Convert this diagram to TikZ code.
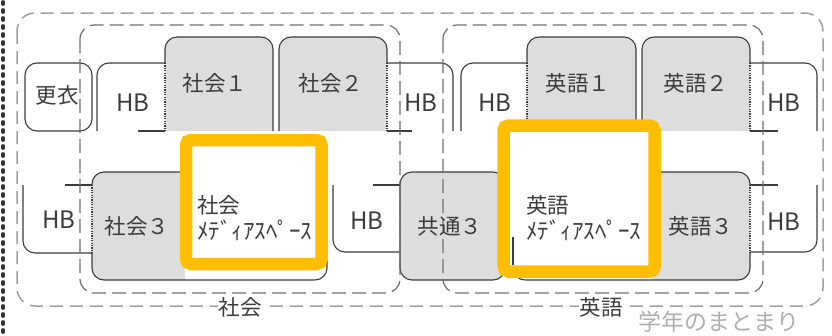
\documentclass[tikz,border=0pt]{standalone}
\usepackage{fontspec}
\setmainfont{Noto Sans CJK JP}
\definecolor{ink}{RGB}{60,60,60}
\definecolor{tilegray}{RGB}{221,221,221}
\definecolor{grpline}{RGB}{110,110,110}
\definecolor{outerline}{RGB}{160,160,160}
\definecolor{hilite}{RGB}{255,190,0}
\definecolor{faint}{RGB}{175,175,175}
\begin{document}
\begin{tikzpicture}[x=1pt,y=-1pt,
  tileline/.style={draw=ink, line width=1.1pt},
  dotline/.style={draw=ink, line width=1.1pt, dash pattern=on 1.2pt off 1.2pt},
  grpbox/.style={draw=grpline, line width=1.2pt, dash pattern=on 14pt off 6pt, rounded corners=14pt},
  outerbox/.style={draw=outerline, line width=1.5pt, dash pattern=on 13pt off 7pt, rounded corners=18pt},
  hibox/.style={draw=hilite, line width=12.5pt, rounded corners=5pt, fill=white},
  lbl/.style={font=\fontsize{21.5pt}{24pt}\selectfont, text=ink, inner sep=1pt},
  kana/.style={font=\fontsize{23pt}{24pt}\selectfont, text=ink, inner sep=1pt},
  hb/.style={font=\fontsize{24pt}{26pt}\selectfont, text=ink, inner sep=0pt},
  rc/.style={rounded corners=12pt},
]
\useasboundingbox (0,0) rectangle (832,335);
% left dotted border
\coordinate (dTop) at (3,2);
\coordinate (dBot) at (3,334);
\draw[black!80, line width=3.8pt, line cap=round, dash pattern=on 2pt off 6pt] (dTop) -- (dBot);
% outer dashed frame
\draw[outerbox] (17,13) rectangle (823,306);

% ---- top row gray tabs ----
\fill[tilegray,rc] (165,37) rectangle (273,131); \fill[tilegray] (165,80) rectangle (273,131);
\fill[tilegray,rc] (279,37) rectangle (387,131); \fill[tilegray] (279,80) rectangle (387,131);
\fill[tilegray,rc] (527,37) rectangle (636,131); \fill[tilegray] (527,80) rectangle (636,131);
\fill[tilegray,rc] (642,37) rectangle (750,131); \fill[tilegray] (642,80) rectangle (750,131);
\draw[tileline,rc] (165,63) -- (165,37) -- (273,37) -- (273,131);
\draw[dotline] (165,63) -- (165,131);
\draw[tileline,rc] (279,131) -- (279,37) -- (387,37) -- (387,63);
\draw[dotline] (387,63) -- (387,131);
\draw[tileline,rc] (527,63) -- (527,37) -- (636,37) -- (636,131);
\draw[dotline] (527,63) -- (527,131);
\draw[tileline,rc] (642,131) -- (642,37) -- (750,37) -- (750,63);
\draw[dotline] (750,63) -- (750,131);

% ---- top row HB tabs ----
\draw[tileline,rc] (97,131) -- (97,63) -- (165,63);
\draw[tileline] (138,131) -- (165,131);
\draw[tileline,rc] (387,63) -- (453,63) -- (453,131);
\draw[tileline] (387,131) -- (412,131);
\draw[tileline,rc] (461,131) -- (461,63) -- (527,63);
\draw[tileline] (505,131) -- (527,131);
\draw[tileline,rc] (750,63) -- (817,63) -- (817,131);
\draw[tileline] (750,131) -- (778,131);

% changing room
\draw[tileline,rc,fill=white] (25,63) rectangle (92,131);

% ---- bottom row HB tabs ----
\draw[tileline] (65,185) -- (92,185);
\draw[tileline,rc] (23,185) -- (23,253) -- (92,253);
\draw[tileline] (373,185) -- (400,185);
\draw[tileline,rc] (333,185) -- (333,252) -- (400,252);
\draw[tileline] (750,185) -- (778,185);
\draw[tileline,rc] (817,185) -- (817,252) -- (750,252);

% ---- bottom row blocks ----
\begin{scope}
  \clip (80,160) rectangle (185,290);
  \fill[tilegray,rc] (92,172) rectangle (327,280);
\end{scope}
\draw[tileline,rc] (92,185) -- (92,172) -- (327,172) -- (327,280) -- (92,280) -- (92,253);
\draw[dotline] (92,185) -- (92,253);

\fill[tilegray,rc] (400,172) rectangle (505,280);
\draw[tileline,rc] (400,172) rectangle (505,280);

\begin{scope}
  \clip (652,160) rectangle (770,290);
  \fill[tilegray,rc] (513,172) rectangle (750,280);
\end{scope}
\draw[tileline,rc] (750,185) -- (750,172) -- (513,172) -- (513,280) -- (750,280) -- (750,253);
\draw[dotline] (750,185) -- (750,253);

% ---- group frames ----
\draw[grpbox] (80,25) rectangle (400,293);
\draw[grpbox] (443,25) rectangle (763,293);

% ---- highlight boxes ----
\draw[hibox] (186,140) rectangle (321.5,264);
\draw[hibox] (503.5,125.5) rectangle (654.5,271.5);
\draw[tileline] (513,237) -- (513,265);

% ---- texts ----
\node[lbl] (koui) at (57,95) {更衣};
\node[hb] (hbA) at (133,103) {HB};
\node[lbl] (sha1) at (215,83) {社会１};
\node[lbl] (sha2) at (331,83) {社会２};
\node[hb] (hbB) at (421,103) {HB};
\node[hb] (hbC) at (495,103) {HB};
\node[lbl] (eng1) at (578,83) {英語１};
\node[lbl] (eng2) at (696,83) {英語２};
\node[hb] (hbD) at (784,103) {HB};
\node[hb] (hbE) at (59,220) {HB};
\node[lbl] (sha3) at (137,226) {社会３};
\node[lbl,anchor=west] (shaMa) at (196,205) {社会};
\node[kana,anchor=west] (shaMb) at (196,230) {ﾒﾃﾞｨｱｽﾍﾟｰｽ};
\node[hb] (hbF) at (367,221) {HB};
\node[lbl] (kyo3) at (450,226) {共通３};
\node[lbl,anchor=west] (engMa) at (525,205) {英語};
\node[kana,anchor=west] (engMb) at (525,230) {ﾒﾃﾞｨｱｽﾍﾟｰｽ};
\node[lbl] (eng3) at (701,226) {英語３};
\node[hb] (hbG) at (784,222) {HB};
\node[lbl,fill=white] (grpS) at (240,307) {社会};
\node[lbl,fill=white] (grpE) at (601,307) {英語};
\node[lbl,text=faint,font=\fontsize{23pt}{24pt}\selectfont] (gakunen) at (719,322) {学年のまとまり};
\end{tikzpicture}
\end{document}
